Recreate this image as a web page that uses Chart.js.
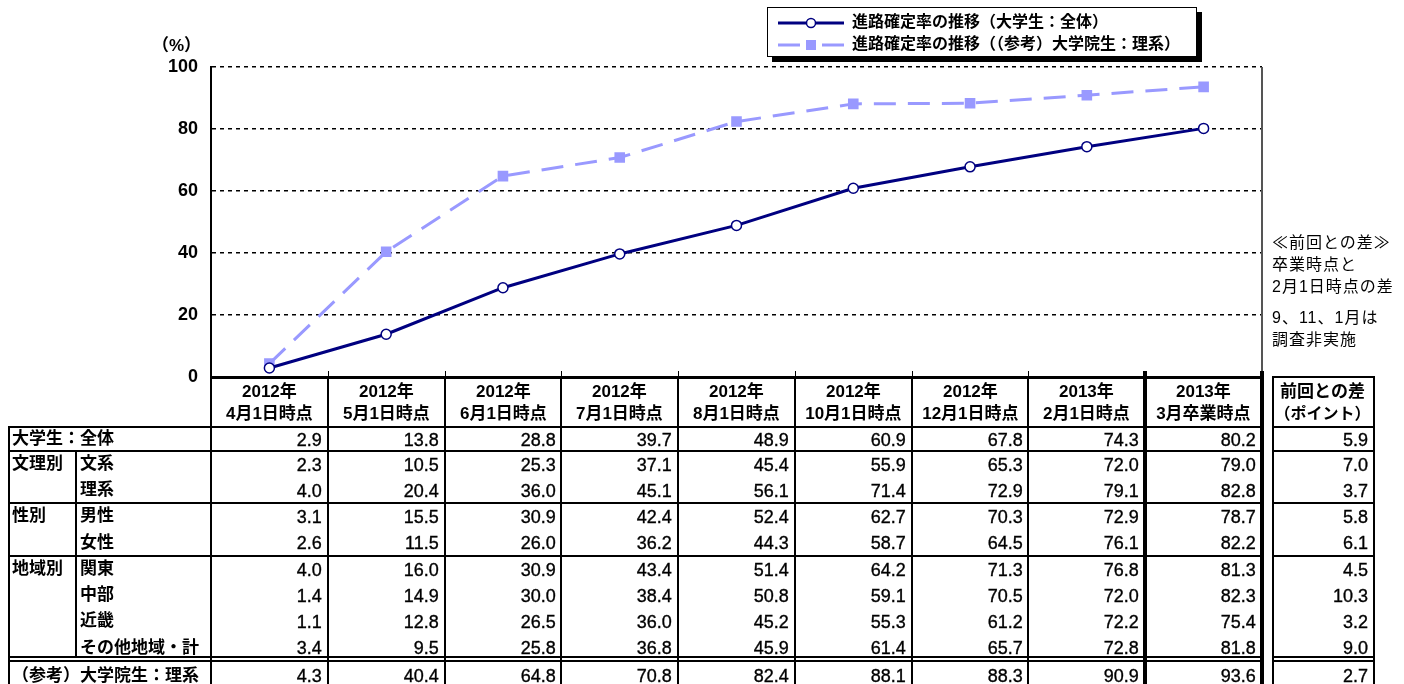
<!DOCTYPE html>
<html>
<head>
<meta charset="utf-8">
<script src="https://cdn.jsdelivr.net/npm/chart.js@4.4.0/dist/chart.umd.min.js"></script>
<style>
    body { margin: 0; background: #fff; }
    #wrap { position: relative; width: 1404px; height: 684px; overflow: hidden; color: #000;
        font-family: "Liberation Sans", "Noto Sans CJK JP", sans-serif; }
    #wrap canvas { position: absolute; left: 0; top: 0; }
    .t { position: absolute; white-space: nowrap; box-sizing: border-box; }
    .ln { position: absolute; background: #000; }
    .b { font-weight: bold; }
    .v { -webkit-text-stroke: 0.35px #000; }
    #legend { position: absolute; left: 767px; top: 7px; width: 430px; height: 50px; box-sizing: border-box;
        border: 1.5px solid #000; background: #fff; box-shadow: 5px 5px 0 #000; }
    #legend div { position: absolute; left: 8px; height: 24px; line-height: 24px; font-size: 16px; font-weight: bold; white-space: nowrap; }
    #legend svg { vertical-align: middle; margin-right: 6px; }
    .note { font-size: 16px; left: 1272px; letter-spacing: 1px; }
</style>
</head>
<body>
<div id="wrap">
    <canvas id="chart" width="1404" height="684"></canvas>
</div>
<script>
// 調査時点
const periodYears = ['2012年', '2012年', '2012年', '2012年', '2012年', '2012年', '2012年', '2013年', '2013年']
const periodDates = ['4月1日時点', '5月1日時点', '6月1日時点', '7月1日時点', '8月1日時点', '10月1日時点', '12月1日時点', '2月1日時点', '3月卒業時点']

// 進路確定率(%)
const allStudents  = [2.9, 13.8, 28.8, 39.7, 48.9, 60.9, 67.8, 74.3, 80.2]
const humanities   = [2.3, 10.5, 25.3, 37.1, 45.4, 55.9, 65.3, 72.0, 79.0]
const sciences     = [4.0, 20.4, 36.0, 45.1, 56.1, 71.4, 72.9, 79.1, 82.8]
const male         = [3.1, 15.5, 30.9, 42.4, 52.4, 62.7, 70.3, 72.9, 78.7]
const female       = [2.6, 11.5, 26.0, 36.2, 44.3, 58.7, 64.5, 76.1, 82.2]
const kanto        = [4.0, 16.0, 30.9, 43.4, 51.4, 64.2, 71.3, 76.8, 81.3]
const chubu        = [1.4, 14.9, 30.0, 38.4, 50.8, 59.1, 70.5, 72.0, 82.3]
const kinki        = [1.1, 12.8, 26.5, 36.0, 45.2, 55.3, 61.2, 72.2, 75.4]
const otherRegions = [3.4, 9.5, 25.8, 36.8, 45.9, 61.4, 65.7, 72.8, 81.8]
const gradScience  = [4.3, 40.4, 64.8, 70.8, 82.4, 88.1, 88.3, 90.9, 93.6]

// 前回との差(ポイント)
const diffs = [5.9, 7.0, 3.7, 5.8, 6.1, 4.5, 10.3, 3.2, 9.0, 2.7]

const rowGroups = ['', '文理別', '', '性別', '', '地域別', '', '', '', '']
const rowLabels = ['大学生：全体', '文系', '理系', '男性', '女性', '関東', '中部', '近畿', 'その他地域・計', '（参考）大学院生：理系']
const rowValues = [allStudents, humanities, sciences, male, female, kanto, chubu, kinki, otherRegions, gradScience]

const yTicks = [0, 20, 40, 60, 80, 100]
const seriesNames = ['進路確定率の推移（大学生：全体）', '進路確定率の推移（（参考）大学院生：理系）']
const notes = ['≪前回との差≫', '卒業時点と', '2月1日時点の差', '9、11、1月は', '調査非実施']

const NAVY = '#000080'
const LILAC = '#9999ff'

const wrap = document.getElementById('wrap')

const addText = (txt, x, y, w, h, extra) => {
    let el = document.createElement('div')
    el.className = 't ' + (extra || '')
    el.style.left = x + 'px'
    el.style.top = y + 'px'
    el.style.width = w + 'px'
    el.style.height = h + 'px'
    el.style.lineHeight = h + 'px'
    el.textContent = txt
    wrap.appendChild(el)
    return el
}

const addLine = (x, y, w, h, color) => {
    let el = document.createElement('div')
    el.className = 'ln'
    el.style.left = x + 'px'
    el.style.top = y + 'px'
    el.style.width = w + 'px'
    el.style.height = h + 'px'
    if (color) el.style.background = color
    wrap.appendChild(el)
}

const framePlugin = {
    id: 'frame',
    afterDraw(c) {
        const {ctx, chartArea: a, scales: {x}} = c
        ctx.save()
        ctx.strokeStyle = '#555'
        ctx.lineWidth = 2
        ctx.beginPath()
        ctx.moveTo(a.right, a.top)
        ctx.lineTo(a.right, a.bottom)
        ctx.stroke()
        ctx.strokeStyle = '#000'
        ctx.lineWidth = 1
        ctx.beginPath()
        for (let i = 1; i < periodDates.length; i++) {
            let px = Math.round((x.getPixelForValue(i - 1) + x.getPixelForValue(i)) / 2) + 0.5
            ctx.moveTo(px, a.bottom)
            ctx.lineTo(px, a.bottom - 6)
        }
        ctx.stroke()
        ctx.restore()
    }
}

const chart = new Chart(document.getElementById('chart'), {
    type: 'line',
    data: {
        labels: periodDates,
        datasets: [{
            label: seriesNames[0],
            data: allStudents,
            borderColor: NAVY,
            borderWidth: 3,
            pointRadius: 5,
            pointBackgroundColor: '#fff',
            pointBorderColor: NAVY,
            pointBorderWidth: 1.5,
            tension: 0,
            order: 1
        }, {
            label: seriesNames[1],
            data: gradScience,
            borderColor: LILAC,
            borderWidth: 3,
            borderDash: [22, 12],
            pointStyle: 'rect',
            pointRadius: 7.5,
            pointBackgroundColor: LILAC,
            pointBorderColor: LILAC,
            pointBorderWidth: 0,
            tension: 0,
            order: 2
        }]
    },
    options: {
        responsive: false,
        animation: false,
        layout: {
            padding: {left: 151, right: 142, top: 67, bottom: 307}
        },
        plugins: {
            legend: {display: false},
            tooltip: {enabled: false}
        },
        scales: {
            x: {display: false, offset: true},
            y: {
                min: 0,
                max: 100,
                afterFit: s => { s.width = 60 },
                afterBuildTicks: s => { s.ticks = yTicks.map(v => ({value: v})) },
                ticks: {
                    color: '#000',
                    padding: 13,
                    font: {size: 18, weight: 'bold', family: '"Liberation Sans", "Noto Sans CJK JP", sans-serif'}
                },
                grid: {color: '#000', lineWidth: 1.5, drawTicks: false},
                border: {display: true, color: '#000', width: 2, dash: [4, 4]}
            }
        }
    },
    plugins: [framePlugin]
})

// unit label
addText('（%）', 152, 35, 50, 22, 'b').style.fontSize = '17px'

// legend
let legend = document.createElement('div')
legend.id = 'legend'
legend.innerHTML =
    '<div style="top:2px"><svg width="70" height="14"><line x1="2" y1="7" x2="68" y2="7" stroke="' + NAVY + '" stroke-width="3"/>' +
    '<circle cx="35" cy="7" r="4.5" fill="#fff" stroke="' + NAVY + '" stroke-width="1.5"/></svg>' + seriesNames[0] + '</div>' +
    '<div style="top:24px"><svg width="70" height="14"><line x1="2" y1="7" x2="24" y2="7" stroke="' + LILAC + '" stroke-width="3"/>' +
    '<rect x="30" y="2" width="10" height="10" fill="' + LILAC + '"/>' +
    '<line x1="46" y1="7" x2="68" y2="7" stroke="' + LILAC + '" stroke-width="3"/></svg>' + seriesNames[1] + '</div>'
wrap.appendChild(legend)

// notes on the right
const noteTops = [232, 254, 276, 307, 329]
notes.forEach((n, i) => {
    addText(n, 1272, noteTops[i], 132, 22, 'note')
})

// table under the chart
const area = chart.chartArea
const colW = (area.right - area.left) / periodDates.length
const colX = i => Math.round(area.left + colW * i)
const headTop = Math.round(area.bottom)
const rowTops = [427, 451, 477, 503, 529, 556, 582, 608, 634, 661]
const tableBottom = 690
const labelX = [8, 75, Math.round(area.left)]
const diffX = [1272, 1373]

// header
periodDates.forEach((d, i) => {
    addText(periodYears[i], colX(i), headTop + 3, colW, 24, 'b').style.cssText += 'text-align:center;font-size:17px'
    addText(d, colX(i), headTop + 25, colW, 24, 'b').style.cssText += 'text-align:center;font-size:17px'
})
addText('前回との差', diffX[0], headTop + 3, diffX[1] - diffX[0], 24, 'b').style.cssText += 'text-align:center;font-size:17px'
addText('（ポイント）', diffX[0], headTop + 25, diffX[1] - diffX[0], 24, 'b').style.cssText += 'text-align:center;font-size:16px'

// rows
rowLabels.forEach((lab, r) => {
    let top = rowTops[r],
        h = (rowTops[r + 1] || tableBottom) - top
    let whole = (r === 0 || r === rowLabels.length - 1)
    if (whole) {
        addText(lab, labelX[0] + 4, top, 200, h, 'b').style.fontSize = '17px'
    } else {
        if (rowGroups[r]) addText(rowGroups[r], labelX[0] + 4, top, 70, h, 'b').style.fontSize = '17px'
        addText(lab, labelX[1] + 5, top, 140, h, 'b').style.fontSize = '17px'
    }
    rowValues[r].forEach((v, i) => {
        let el = addText(v.toFixed(1), colX(i), top + 1, colW, h, 'v')
        el.style.cssText += 'text-align:right;padding-right:6px;font-size:18px'
    })
    let el = addText(diffs[r].toFixed(1), diffX[0], top + 1, diffX[1] - diffX[0], h, 'v')
    el.style.cssText += 'text-align:right;padding-right:5px;font-size:18px'
})

// table lines
addLine(colX(0), headTop - 1, colX(9) - colX(0), 3)
addLine(diffX[0], headTop - 1, diffX[1] - diffX[0] + 2, 2)
;[427, 451, 503, 556].forEach(y => {
    addLine(labelX[0], y - 1, colX(9) - labelX[0], 2)
    addLine(diffX[0], y - 1, diffX[1] - diffX[0] + 2, 2)
})
;[657, 661].forEach(y => {
    addLine(labelX[0], y - 1, colX(9) - labelX[0], 1.5)
    addLine(diffX[0], y - 1, diffX[1] - diffX[0] + 2, 1.5)
})
addLine(labelX[0], 426, 2, tableBottom - 426)
addLine(labelX[1], 450, 2, 207)
for (let i = 0; i <= periodDates.length; i++) {
    if (i >= 8) {
        addLine(colX(i) - 2, headTop - 6, 4, tableBottom - headTop + 6)
    } else {
        addLine(colX(i) - 1, headTop, 2, tableBottom - headTop)
    }
}
addLine(diffX[0], headTop, 2, tableBottom - headTop)
addLine(diffX[1], headTop, 2, tableBottom - headTop)
</script>
</body>
</html>
